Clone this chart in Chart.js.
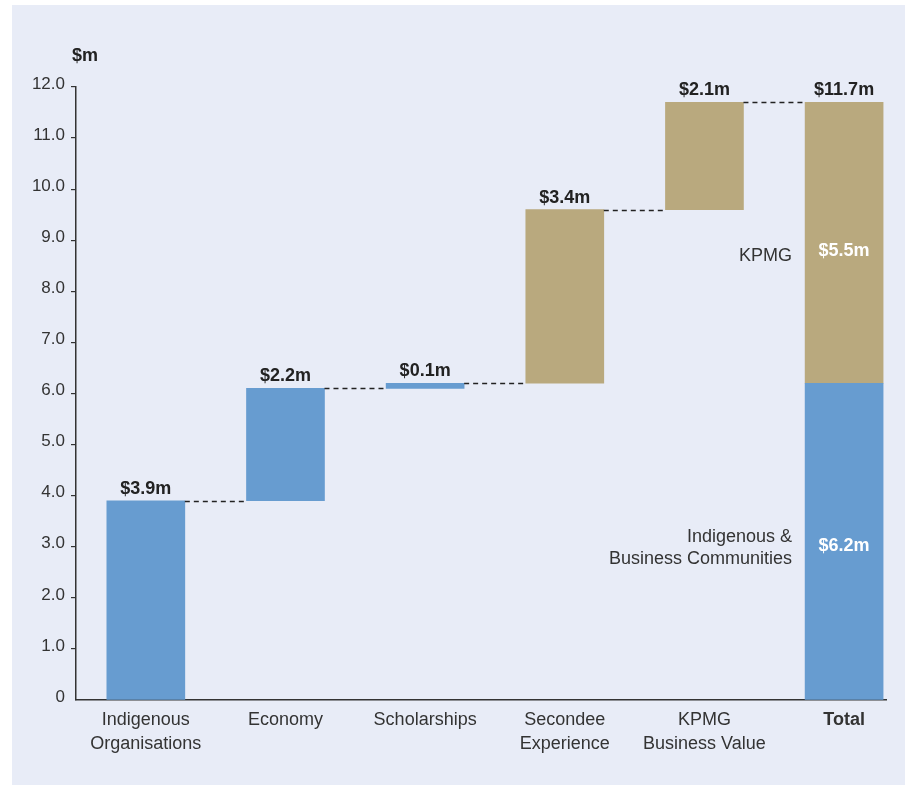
<!DOCTYPE html>
<html lang="en">
<head>
<meta charset="UTF-8" />
<title>Value created ($m)</title>
<script src="https://cdn.jsdelivr.net/npm/chart.js"></script>
<style>
  html, body { margin: 0; padding: 0; background: #fff; }
  #wrap { width: 909px; height: 787px; }
</style>
</head>
<body>
<div id="wrap"><canvas id="chart" width="909" height="787"></canvas></div>
<script>
  // data
  const categories = [["Indigenous", "Organisations"], "Economy", "Scholarships", ["Secondee", "Experience"], ["KPMG", "Business Value"], "Total"];
  const steps = [3.9, 2.2, 0.1, 3.4, 2.1];
  const stepSource = ["community", "community", "community", "kpmg", "kpmg"];
  const totalCommunity = 6.2;
  const totalKpmg = 5.5;
  const totalValue = 11.7;
  const yMin = 0, yMax = 12, yStep = 1;

  const blue = "#679cd0", tan = "#b9a97e", ink = "#333";
  const barW = 78;
  const money = v => "$" + v.toFixed(1) + "m";

  Chart.defaults.font.family = '"Liberation Sans", Arial, sans-serif';
  Chart.defaults.font.size = 17;
  Chart.defaults.color = ink;

  // build waterfall bars
  let running = 0;
  const levels = [];
  const communityData = [], kpmgData = [];
  steps.forEach((v, i) => {
    const start = running;
    running = +(running + v).toFixed(2);
    levels.push(running);
    (stepSource[i] === "community" ? communityData : kpmgData).push({ x: i, y: [start, running] });
  });
  const last = categories.length - 1;
  communityData.push({ x: last, y: [0, totalCommunity] });
  kpmgData.push({ x: last, y: [totalCommunity, totalCommunity + totalKpmg] });

  const annotate = {
    id: "annotate",
    beforeDraw(chart) {
      const ctx = chart.ctx;
      ctx.save();
      ctx.fillStyle = "#e8ecf7";
      ctx.fillRect(12, 5, 893, 780);
      ctx.restore();
    },
    afterDatasetsDraw(chart) {
      const { ctx, scales: { x, y } } = chart;
      const half = barW / 2;
      ctx.save();

      // dashed connectors
      ctx.setLineDash([5, 4]);
      ctx.strokeStyle = "#222";
      ctx.lineWidth = 1.4;
      levels.forEach((lv, i) => {
        const py = Math.round(y.getPixelForValue(lv)) + 0.5;
        ctx.beginPath();
        ctx.moveTo(x.getPixelForValue(i) + half, py);
        ctx.lineTo(x.getPixelForValue(i + 1) - half, py);
        ctx.stroke();
      });
      ctx.setLineDash([]);

      // values above bars
      ctx.font = 'bold 18px "Liberation Sans", Arial, sans-serif';
      ctx.fillStyle = "#222";
      ctx.textAlign = "center";
      ctx.textBaseline = "alphabetic";
      levels.forEach((lv, i) => {
        ctx.fillText(money(steps[i]), x.getPixelForValue(i), y.getPixelForValue(lv) - 7);
      });
      ctx.fillText(money(totalValue), x.getPixelForValue(last), y.getPixelForValue(totalValue) - 7);

      // values inside total bar
      const tx = x.getPixelForValue(last);
      const midK = (y.getPixelForValue(totalCommunity) + y.getPixelForValue(totalValue)) / 2;
      const midC = (y.getPixelForValue(0) + y.getPixelForValue(totalCommunity)) / 2;
      ctx.fillStyle = "#fff";
      ctx.textBaseline = "middle";
      ctx.fillText(money(totalKpmg), tx, midK + 8);
      ctx.fillText(money(totalCommunity), tx, midC + 4);

      // side notes
      ctx.font = '18px "Liberation Sans", Arial, sans-serif';
      ctx.fillStyle = ink;
      ctx.textAlign = "right";
      const nx = tx - half - 13;
      ctx.fillText("KPMG", nx, midK + 13);
      ctx.fillText("Indigenous &", nx, midC - 5);
      ctx.fillText("Business Communities", nx, midC + 17);

      // unit label
      ctx.font = 'bold 18px "Liberation Sans", Arial, sans-serif';
      ctx.fillStyle = "#222";
      ctx.textAlign = "center";
      ctx.fillText("$m", 85, 56);
      ctx.restore();
    }
  };

  new Chart(document.getElementById("chart"), {
    type: "bar",
    data: {
      datasets: [
        { label: "Indigenous & Business Communities", data: communityData, backgroundColor: blue, grouped: false, barThickness: barW, borderWidth: 0 },
        { label: "KPMG", data: kpmgData, backgroundColor: tan, grouped: false, barThickness: barW, borderWidth: 0 }
      ]
    },
    options: {
      responsive: false,
      animation: false,
      layout: { padding: { top: 87, right: 23, bottom: 0, left: 0 } },
      plugins: { legend: { display: false }, tooltip: { enabled: false } },
      scales: {
        x: {
          type: "linear",
          offset: false,
          min: -0.5,
          max: 5.3,
          afterBuildTicks: s => { s.ticks = categories.map((c, i) => ({ value: i })); },
          afterFit: s => { s.height = 87; s.paddingLeft = 0; s.paddingRight = 0; },
          grid: { display: false, offset: false },
          border: { color: ink, width: 1.5 },
          ticks: {
            autoSkip: false,
            maxRotation: 0,
            padding: 1,
            color: ink,
            font: c => ({ size: 18, lineHeight: 1.28, weight: c.tick && c.tick.value === last ? "bold" : "normal" }),
            callback: v => categories[v]
          }
        },
        y: {
          min: yMin,
          max: yMax,
          afterFit: s => { s.width = 76; s.paddingTop = 0; s.paddingBottom = 0; },
          grid: {
            drawOnChartArea: false,
            drawTicks: true,
            tickLength: 5,
            lineWidth: 1.2,
            color: c => (c.tick && c.tick.value === 0 ? "rgba(0,0,0,0)" : ink)
          },
          border: { color: ink, width: 1.5 },
          ticks: {
            stepSize: yStep,
            padding: 6,
            labelOffset: -3,
            color: ink,
            callback: v => (v === 0 ? "0" : v.toFixed(1))
          }
        }
      }
    },
    plugins: [annotate]
  });
</script>
</body>
</html>
